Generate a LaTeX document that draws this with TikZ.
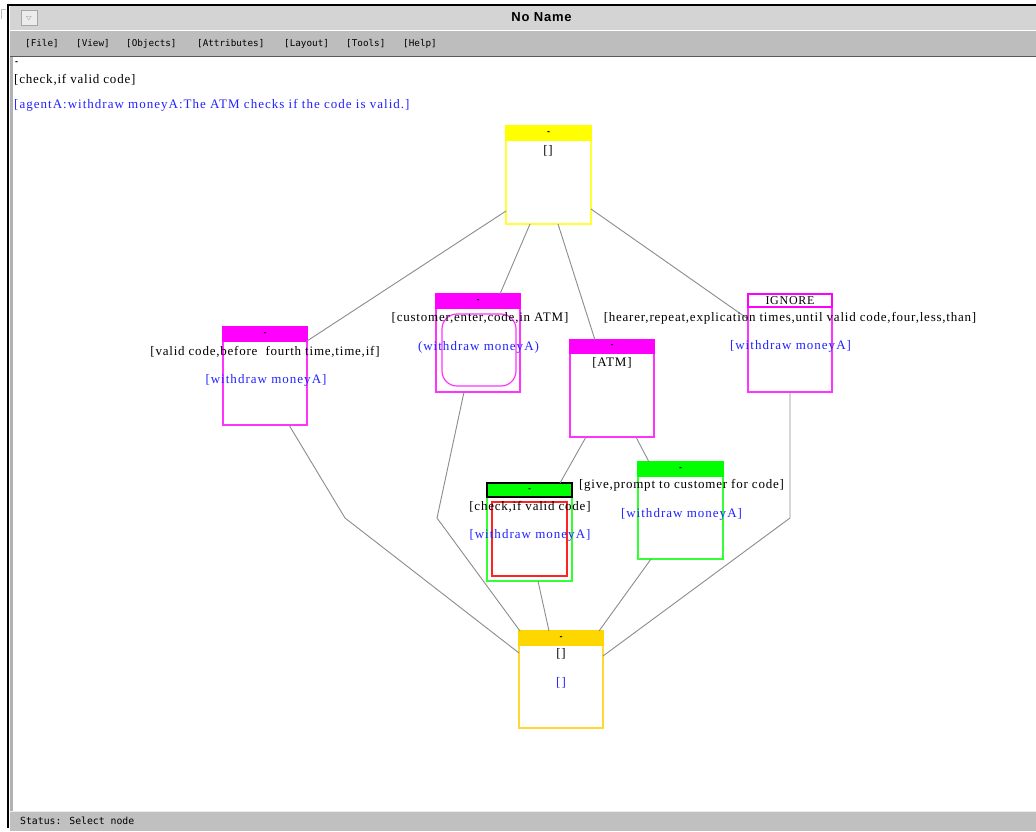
\documentclass[tikz,border=0pt]{standalone}
\usepackage{fontspec}
\setmainfont{Liberation Serif}
\newfontfamily\lab[LetterSpace=6]{Liberation Serif}
\newfontfamily\labb[LetterSpace=7.8]{Liberation Serif}
\newfontfamily\uifont{DejaVu Sans Mono}
\newfontfamily\ttlfont{Liberation Sans}
\newfontfamily\ttlfontsp[LetterSpace=6]{Liberation Sans}
\usetikzlibrary{calc}
\definecolor{hdyellow}{HTML}{FFFF00}
\definecolor{bdyellow}{HTML}{FFFF33}
\definecolor{hdmag}{HTML}{FF00FF}
\definecolor{bdmag}{HTML}{FF33FF}
\definecolor{hdgreen}{HTML}{00FF00}
\definecolor{bdgreen}{HTML}{33FF33}
\definecolor{hdgold}{HTML}{FFD700}
\definecolor{bdgold}{HTML}{FFD833}
\definecolor{redin}{HTML}{FF2222}
\definecolor{bluetxt}{HTML}{2222FF}
\definecolor{edgegray}{HTML}{8C8C8C}
\definecolor{titlegray}{HTML}{D4D4D4}
\definecolor{menugray}{HTML}{BDBDBD}
\definecolor{statgray}{HTML}{C0C0C0}
\tikzset{
  body/.style={draw, line width=1.3pt, fill=white, inner sep=0pt, outer sep=0pt, minimum width=85pt, minimum height=84pt},
  head/.style={draw, line width=1.3pt, inner sep=0pt, outer sep=0pt, minimum width=85pt, minimum height=14pt, font=\ttlfont\fontsize{9}{9}\selectfont\bfseries},
  txt/.style={inner sep=0pt, anchor=base, font=\lab\fontsize{13}{15}\selectfont},
  btxt/.style={inner sep=0pt, anchor=base, font=\labb\fontsize{13}{15}\selectfont, text=bluetxt},
  edge/.style={draw=edgegray, line width=0.9pt},
  menu/.style={inner sep=0pt, anchor=west, font=\uifont\fontsize{9.3}{10}\selectfont}
}
\begin{document}
\begin{tikzpicture}[x=1pt,y=-1pt]
\useasboundingbox (0,0) rectangle (1036,831);
% window chrome
\fill[white] (0,0) rectangle (1036,831);
\fill[titlegray] (10,6) rectangle (1036,30);
\draw[white, line width=1pt] (10,30.5) -- (1036,30.5);
\fill[menugray] (10,31) rectangle (1036,56);
\draw[gray!70!black, line width=1.5pt] (10,56.5) -- (1036,56.5);
\fill[statgray] (10,811) rectangle (1036,831);
\draw[white!85!gray, line width=1pt] (10,811) -- (1036,811);
\fill[gray!60] (10,57) rectangle (13,811);
\draw[black, line width=2.5pt] (8,5) -- (1036,5);
\draw[black, line width=2.5pt] (8,4) -- (8,828);
\draw[gray!50, line width=1pt] (1,19) -- (1,9) -- (6,9);
\node[draw=gray!70, fill=gray!15, line width=0.8pt, minimum width=16pt, minimum height=15pt, inner sep=0pt] (btn) at (29,17.5) {};
\node[inner sep=0pt, text=gray, font=\fontsize{6}{6}\selectfont] (btntri) at (29,17.5) {$\bigtriangledown$};
\node[inner sep=0pt, font=\ttlfontsp\fontsize{13}{13}\selectfont\bfseries] (title) at (541.5,17) {No Name};
\node[menu] (mfile) at (25,43.5) {[File]};
\node[menu] (mview) at (76,43.5) {[View]};
\node[menu] (mobj) at (126,43.5) {[Objects]};
\node[menu] (mattr) at (197,43.5) {[Attributes]};
\node[menu] (mlay) at (284,43.5) {[Layout]};
\node[menu] (mtools) at (346,43.5) {[Tools]};
\node[menu] (mhelp) at (403,43.5) {[Help]};
\node[menu, font=\uifont\fontsize{9.8}{10}\selectfont] (status) at (20,821) {Status: Select node};
% info text
\node[inner sep=0pt, font=\ttlfont\fontsize{9}{9}\selectfont\bfseries] (dash0) at (16.5,63) {-};
\node[txt, anchor=base west] (info1) at (14,83) {[check,if valid code]};
\node[btxt, anchor=base west] (info2) at (14,108) {[agentA:withdraw moneyA:The ATM checks if the code is valid.]};
\coordinate (k1) at (345,518);
\coordinate (k2) at (437,518);
\coordinate (k3) at (790,518);
% nodes
\node[body, draw=bdyellow] (top) at (548.5,182) {};
\node[head, fill=hdyellow, draw=hdyellow] (toph) at (548.5,133) {-};
\node[body, draw=bdmag, minimum width=84pt] (left) at (265,383) {};
\node[head, fill=hdmag, draw=hdmag, minimum width=84pt] (lefth) at (265,334) {-};
\node[body, draw=bdmag, minimum width=84pt] (cust) at (478,350) {};
\node[head, fill=hdmag, draw=hdmag, minimum width=84pt] (custh) at (478,301) {-};
\node[draw=bdmag, line width=1.2pt, rounded corners=15pt, minimum width=74pt, minimum height=72pt, inner sep=0pt] (custin) at (479,350) {};
\node[body, draw=bdmag, minimum width=84pt] (atm) at (612,395) {};
\node[head, fill=hdmag, draw=hdmag, minimum width=84pt, minimum height=13pt] (atmh) at (612,346.5) {-};
\node[body, draw=bdmag, minimum width=84pt, minimum height=85pt] (ign) at (790,349.5) {};
\node[head, fill=white, draw=hdmag, minimum width=84pt, minimum height=13pt, font=\lab\fontsize{12}{13}\selectfont] (ignh) at (790,300.5) {IGNORE};
\node[body, draw=bdgreen] (chk) at (529.5,539) {};
\node[head, fill=hdgreen, draw=black] (chkh) at (529.5,490) {-};
\node[draw=redin, line width=1.2pt, minimum width=75pt, minimum height=74pt, inner sep=0pt] (chkin) at (529.5,539) {};
\node[body, draw=bdgreen, minimum height=83pt] (grn) at (680.5,517.5) {};
\node[head, fill=hdgreen, draw=hdgreen] (grnh) at (680.5,469) {-};
\node[body, draw=bdgold, minimum width=84pt, minimum height=83pt] (bot) at (561,686.5) {};
\node[head, fill=hdgold, draw=hdgold, minimum width=84pt] (both) at (561,638) {-};
% edges
\path[edge] ([yshift=-29pt]top.west) -- (left.north east);
\path[edge] ([xshift=-18.5pt]top.south) -- ([xshift=22pt]custh.north);
\path[edge] ([xshift=9.5pt]top.south) -- ([xshift=-17pt]atmh.north);
\path[edge] ([yshift=-27pt]top.east) -- ([yshift=30.5pt]ign.west);
\path[edge] ([xshift=24pt]left.south) -- (k1) -- ([yshift=33.5pt]bot.west);
\path[edge] ([xshift=-14pt]cust.south) -- (k2) -- ([xshift=1pt]both.north west);
\path[edge] ([xshift=-26pt]atm.south) -- ([xshift=30.5pt]chkh.north);
\path[edge] ([xshift=24pt]atm.south) -- ([xshift=-31.5pt]grnh.north);
\path[edge] ([xshift=8.5pt]chk.south) -- ([xshift=-12pt]both.north);
\path[edge] ([xshift=-29.5pt]grn.south) -- ([xshift=38pt]both.north);
\path[edge] (ign.south) -- (k3) -- ([yshift=30.5pt]bot.east);
% labels
\node[txt] (toplab) at (548,154) {[]};
\node[txt] (leftlab) at (265,355) {[valid code,before\ \ fourth time,time,if]};
\node[btxt] (leftb) at (266,383) {[withdraw moneyA]};
\node[txt] (custlab) at (480,321) {[customer,enter,code,in ATM]};
\node[btxt] (custb) at (478.5,350) {(withdraw moneyA)};
\node[txt] (atmlab) at (612,366) {[ATM]};
\node[txt] (ignlab) at (790,321) {[hearer,repeat,explication times,until valid code,four,less,than]};
\node[btxt] (ignb) at (790.5,349) {[withdraw moneyA]};
\node[txt] (chklab) at (530,510) {[check,if valid code]};
\node[btxt] (chkb) at (530,538) {[withdraw moneyA]};
\node[txt] (grnlab) at (681.5,488) {[give,prompt to customer for code]};
\node[btxt] (grnb) at (681.5,517) {[withdraw moneyA]};
\node[txt] (botlab) at (561,657) {[]};
\node[btxt] (botb) at (561,686) {[]};
\end{tikzpicture}
\end{document}
